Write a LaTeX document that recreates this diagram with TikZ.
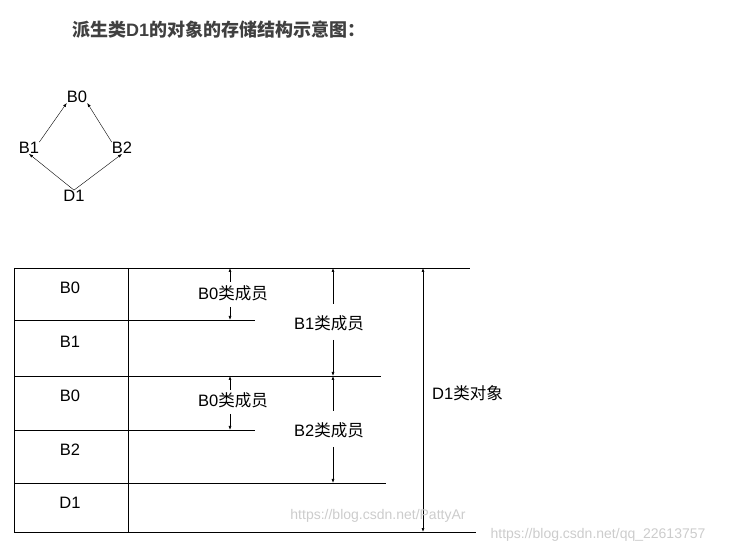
\documentclass[tikz,border=0pt]{standalone}
\usepackage{fontspec}
\usetikzlibrary{arrows.meta}
\setmainfont{Liberation Sans}
\newfontfamily\cjk{Noto Sans CJK SC}
\begin{document}
\begin{tikzpicture}[x=1pt,y=-1pt,
  lab/.style={font=\fontsize{16.5}{19}\selectfont,inner sep=0pt},
  ln/.style={line width=0.7pt},
  arr/.style={line width=0.6pt,-{Latex[length=4pt,width=3pt]}},
  wm/.style={font=\fontsize{14}{16}\selectfont,text=black!20,inner sep=0pt}]
\useasboundingbox (0,0) rectangle (729,553);
\node[inner sep=0pt,text=black!75,anchor=west] (title) at (72,30) {\fontsize{18}{20}\selectfont\bfseries\cjk 派生类\textrm{D1}的对象的存储结构示意图：};
% small graph
\node[lab] (g0) at (77,97) {B0};
\node[lab] (g1) at (29,148) {B1};
\node[lab] (g2) at (122,148) {B2};
\node[lab] (g3) at (74,196) {D1};
\draw[arr,line width=0.4pt] (g1.north east) -- (g0.south west);
\draw[arr,line width=0.4pt] (g2.north west) -- (g0.south east);
\draw[arr,line width=0.4pt] (g3.north) -- (g1.south);
\draw[arr,line width=0.4pt] (g3.north) -- (g2.south);
% table lines
\coordinate (tl) at (14,268); \coordinate (bl) at (14,532);
\coordinate (tm) at (128,268); \coordinate (bm) at (128,532);
\draw[ln] (tl) -- (bl); \draw[ln] (tm) -- (bm);
\coordinate (h0a) at (14,268); \coordinate (h0b) at (470,268);
\coordinate (h1a) at (14,320); \coordinate (h1b) at (255,320);
\coordinate (h2a) at (14,376); \coordinate (h2b) at (381,376);
\coordinate (h3a) at (14,430); \coordinate (h3b) at (255,430);
\coordinate (h4a) at (14,483); \coordinate (h4b) at (386,483);
\coordinate (h5a) at (14,532); \coordinate (h5b) at (476,532);
\foreach \i in {0,...,5} \draw[ln] (h\i a) -- (h\i b);
\node[lab] (c0) at (70,288) {B0};
\node[lab] (c1) at (70,342) {B1};
\node[lab] (c2) at (70,396) {B0};
\node[lab] (c3) at (70,450) {B2};
\node[lab] (c4) at (70,503) {D1};
% member labels
\node[lab] (m0) at (233,293) {B0{\cjk 类成员}};
\node[lab] (m1) at (329,323) {B1{\cjk 类成员}};
\node[lab] (m2) at (233,400) {B0{\cjk 类成员}};
\node[lab] (m3) at (329,430) {B2{\cjk 类成员}};
\node[lab,anchor=west] (m4) at (432,393) {D1{\cjk 类对象}};
\coordinate (a0t) at (230,268); \coordinate (a0s) at (230,282);
\coordinate (a0e) at (230,307); \coordinate (a0b) at (230,320);
\draw[arr] (a0s) -- (a0t); \draw[arr] (a0e) -- (a0b);
\coordinate (a2t) at (230,376); \coordinate (a2s) at (230,390);
\coordinate (a2e) at (230,414); \coordinate (a2b) at (230,430);
\draw[arr] (a2s) -- (a2t); \draw[arr] (a2e) -- (a2b);
\coordinate (a1t) at (333,268); \coordinate (a1s) at (333,304);
\coordinate (a1e) at (333,340); \coordinate (a1b) at (333,376);
\draw[arr] (a1s) -- (a1t); \draw[arr] (a1e) -- (a1b);
\coordinate (a3t) at (333,376); \coordinate (a3s) at (333,411);
\coordinate (a3e) at (333,447); \coordinate (a3b) at (333,483);
\draw[arr] (a3s) -- (a3t); \draw[arr] (a3e) -- (a3b);
\coordinate (dt) at (423,268); \coordinate (db) at (423,532);
\draw[line width=0.6pt,{Latex[length=4pt,width=3pt]}-{Latex[length=4pt,width=3pt]}] (dt) -- (db);
\node[wm] (w1) at (378,516) {https://blog.csdn.net/PattyAr};
\node[wm] (w2) at (598,535) {https://blog.csdn.net/qq\_22613757};
\end{tikzpicture}
\end{document}
